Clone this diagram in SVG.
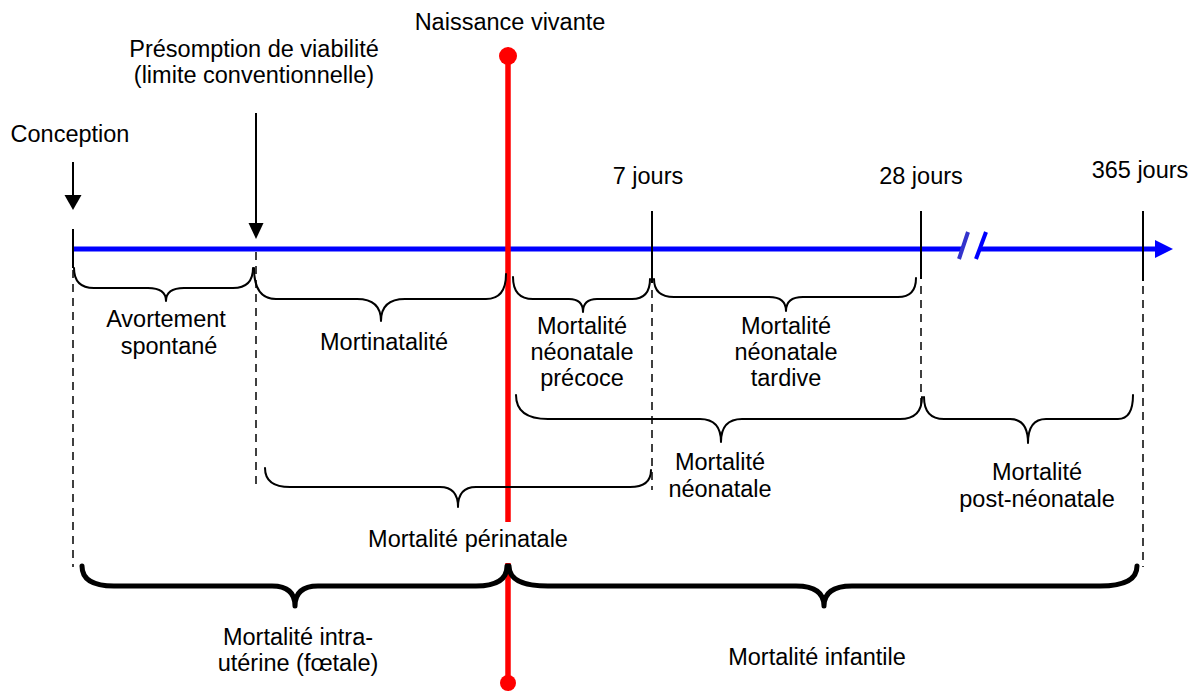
<svg xmlns="http://www.w3.org/2000/svg" width="1195" height="691" viewBox="0 0 1195 691">
<style>
text{font-family:"Liberation Sans",Arial,sans-serif;font-size:23.5px;fill:#000;text-anchor:middle}
.brace{fill:none;stroke:#000;stroke-width:2;stroke-linejoin:round;stroke-linecap:round}
.thick{fill:none;stroke:#000;stroke-width:5;stroke-linejoin:round;stroke-linecap:round}
.dash{stroke:#000;stroke-width:1.5;stroke-dasharray:8,6;fill:none}
.tick{stroke:#000;stroke-width:2;fill:none}
.red{stroke:#ff0000;stroke-width:5.5;fill:none}
</style>
<rect width="1195" height="691" fill="#fff"/>
<g id="connectors">
  <!-- dashed guides -->
  <line class="dash" x1="73" y1="270" x2="73" y2="567"/>
  <line class="dash" x1="256" y1="252" x2="256" y2="490"/>
  <line class="dash" x1="652" y1="290" x2="652" y2="490"/>
  <line class="dash" x1="921" y1="286" x2="921" y2="410"/>
  <line class="dash" x1="1143" y1="286" x2="1143" y2="567"/>
  <!-- blue time axis -->
  <line x1="73" y1="249" x2="963" y2="249" stroke="#0000ff" stroke-width="5"/>
  <line x1="979" y1="249" x2="1157" y2="249" stroke="#0000ff" stroke-width="5"/>
  <polygon points="1155,240 1173,249 1155,258" fill="#0000ff"/>
  <line x1="968" y1="232" x2="959" y2="259" stroke="#3333cc" stroke-width="4"/>
  <line x1="986" y1="232" x2="976" y2="259" stroke="#0000ff" stroke-width="4"/>
  <!-- ticks -->
  <line class="tick" x1="73" y1="229" x2="73" y2="268"/>
  <line class="tick" x1="652" y1="211" x2="652" y2="283"/>
  <line class="tick" x1="921" y1="211" x2="921" y2="279"/>
  <line class="tick" x1="1143" y1="211" x2="1143" y2="281"/>
  <!-- arrows -->
  <line class="tick" x1="73" y1="162" x2="73" y2="197"/>
  <polygon points="64.5,195 81.5,195 73,210" fill="#000"/>
  <line class="tick" x1="256" y1="113" x2="256" y2="225"/>
  <polygon points="248.5,223 263.5,223 256,239" fill="#000"/>
  <!-- red birth line -->
  <line class="red" x1="508" y1="56" x2="508" y2="522"/>
  <line class="red" x1="508" y1="563" x2="508" y2="683"/>
  <circle cx="508" cy="56" r="9" fill="#ff0000"/>
  <circle cx="508" cy="683" r="8" fill="#ff0000"/>
</g>
<g id="brace-avortement">
  <path class="brace" d="M74,268 Q74,288 94,288 L148,288 Q166,288 166,301 Q166,288 184,288 L233,288 Q253,288 253,268"/>
  <text x="166" y="327">Avortement</text>
  <text x="169" y="354">spontané</text>
</g>
<g id="brace-mortinatalite">
  <path class="brace" d="M254,268 Q254,299 276,299 L357,299 Q381,299 381,321 Q381,299 405,299 L486,299 Q506,299 506,274"/>
  <text x="384" y="350">Mortinatalité</text>
</g>
<g id="brace-precoce">
  <path class="brace" d="M513,277 Q513,299 533,299 L569,299 Q583,299 583,312 Q583,299 597,299 L632,299 Q650,299 650,279"/>
  <text x="582" y="334">Mortalité</text>
  <text x="582" y="360">néonatale</text>
  <text x="582" y="386">précoce</text>
</g>
<g id="brace-tardive">
  <path class="brace" d="M654,279 Q654,297 674,297 L769,297 Q786,297 786,311 Q786,297 803,297 L898,297 Q916,297 916,278"/>
  <text x="786" y="334">Mortalité</text>
  <text x="786" y="360">néonatale</text>
  <text x="786" y="386">tardive</text>
</g>
<g id="brace-neonatale">
  <path class="brace" d="M516,395 Q516,419 548,419 L700,419 Q721,419 721,442 Q721,419 742,419 L900,419 Q922,419 922,397"/>
  <text x="720" y="470">Mortalité</text>
  <text x="720" y="497">néonatale</text>
</g>
<g id="brace-postneonatale">
  <path class="brace" d="M924,397 Q924,419 944,419 L1010,419 Q1028,419 1028,443 Q1028,419 1046,419 L1118,419 Q1133,419 1133,395"/>
  <text x="1037" y="480">Mortalité</text>
  <text x="1037" y="507">post-néonatale</text>
</g>
<g id="brace-perinatale">
  <path class="brace" d="M265,468 Q265,487 290,487 L440,487 Q458,487 458,507 Q458,487 476,487 L630,487 Q651,487 651,470"/>
  <text x="468" y="547">Mortalité périnatale</text>
</g>
<g id="brace-intrauterine">
  <path class="thick" d="M82,566 Q82,586 114,586 L272,586 Q295,586 295,606 Q295,586 318,586 L476,586 Q507,586 507,566"/>
  <text x="298" y="645">Mortalité intra-</text>
  <text x="298" y="671">utérine (fœtale)</text>
</g>
<g id="brace-infantile">
  <path class="thick" d="M509,566 Q509,586 548,586 L796,586 Q824,586 824,606 Q824,586 852,586 L1100,586 Q1137,586 1137,566"/>
  <text x="817" y="665">Mortalité infantile</text>
</g>
<g id="labels">
  <text x="510" y="30">Naissance vivante</text>
  <text x="254" y="57">Présomption de viabilité</text>
  <text x="254" y="83">(limite conventionnelle)</text>
  <text x="70" y="142">Conception</text>
  <text x="648" y="184">7 jours</text>
  <text x="921" y="184">28 jours</text>
  <text x="1140" y="178">365 jours</text>
</g>
</svg>
